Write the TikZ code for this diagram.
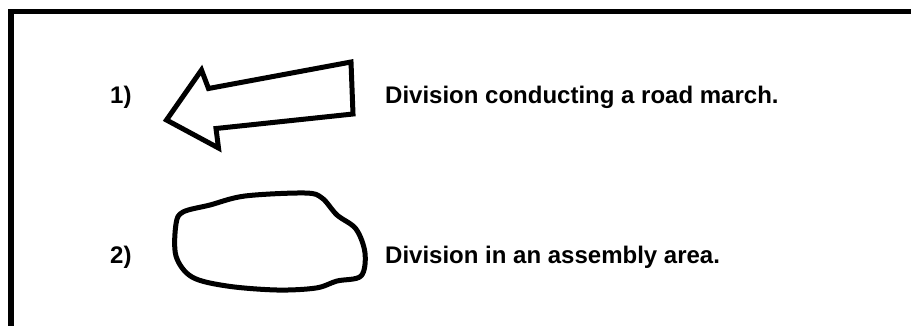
\documentclass[tikz,border=0pt]{standalone}
\usepackage{fontspec}
\setmainfont{Liberation Sans}
\usetikzlibrary{positioning}

\tikzset{
	pen/.style={line width=5pt, line join=round, line cap=round},
	legend/.style={anchor=base west, inner sep=0pt, font=\bfseries\fontsize{24}{28}\selectfont}
}

\begin{document}
\begin{tikzpicture}[x=1pt, y=-1pt]
			%%%%% START %%%%%
			\useasboundingbox (0, 0) rectangle (911, 325);
			
			% frame, open at the bottom and on the right
			\draw[line width=5.5pt, line join=miter] (11, 330) -- (11, 11.5) -- (915, 11.5);
			
			% 1) road march arrow
			\node[legend] (num1) at (110, 103) {1)};
			\draw[pen, line join=miter] (166.5, 120) -- (201.5, 70) -- (208.5, 88.5) -- (351, 62)
				-- (353, 114) -- (216, 128.5) -- (218.5, 148) -- cycle;
			\node[legend] (march) at (385, 103) {Division conducting a road march.};
			
			% 2) assembly area outline
			\node[legend] (num2) at (110, 263) {2)};
			\draw[pen] plot[smooth cycle, tension=0.55] coordinates {
				(176, 224) (183, 212) (210, 205) (245, 196) (305, 193) (322, 198)
				(337, 215) (356, 229) (365, 253) (361, 276) (337, 281) (316, 288)
				(277, 290) (227, 286) (192, 277) (176, 256)};
			\node[legend] (area) at (385, 263) {Division in an assembly area.};
			
			%%%%% END %%%%%
		\end{tikzpicture}
\end{document}
